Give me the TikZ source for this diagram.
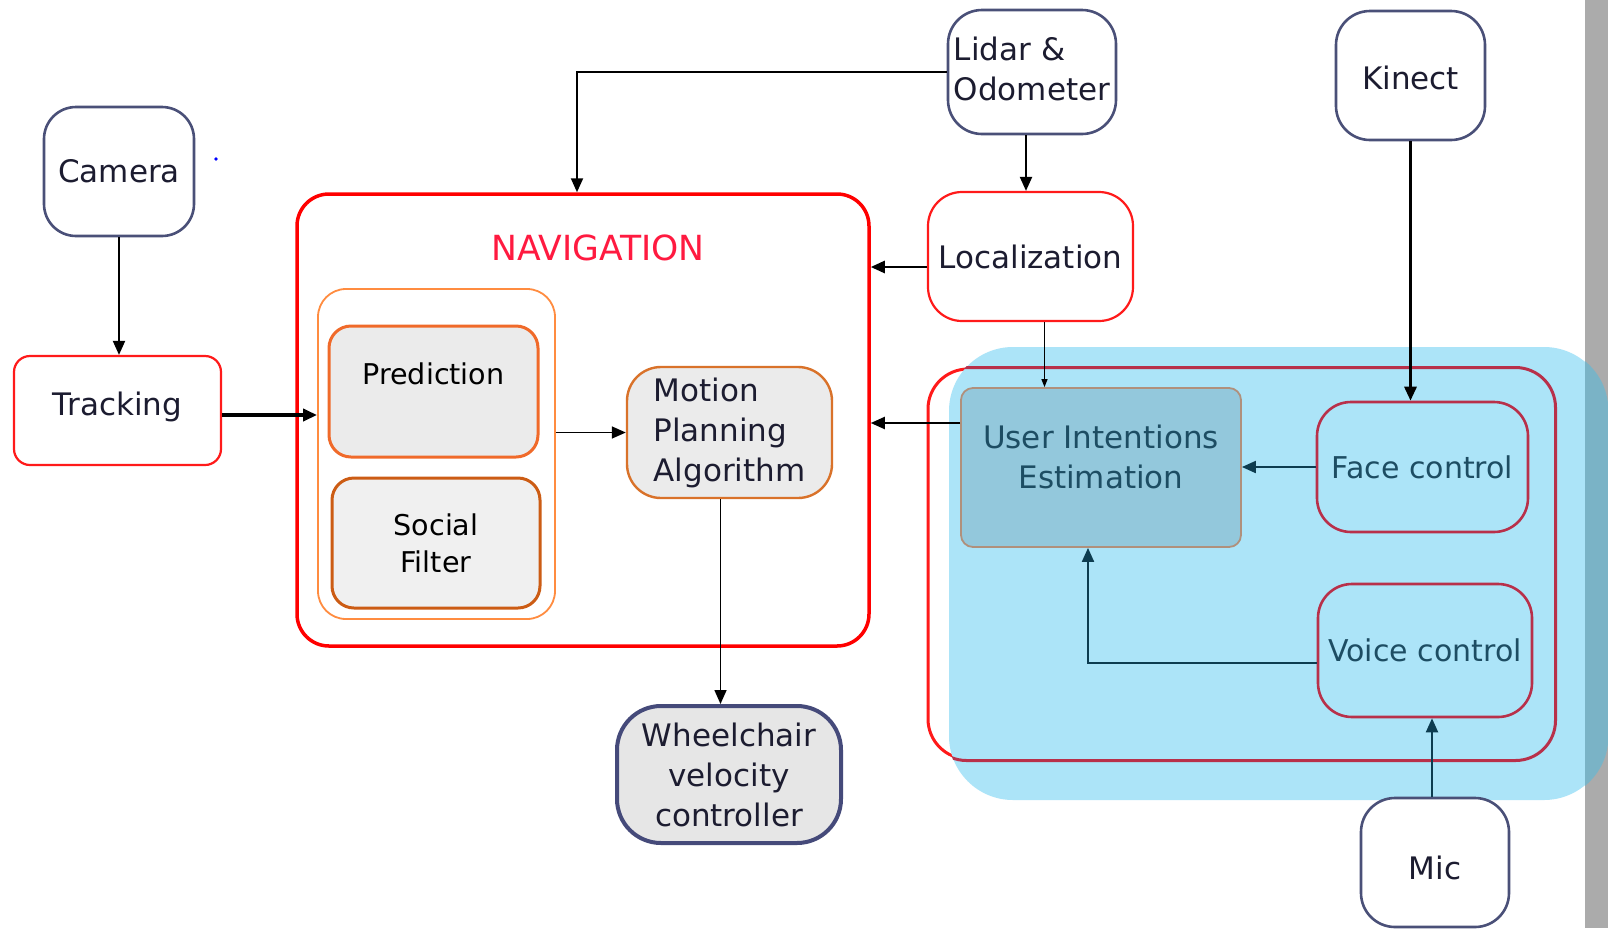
\documentclass[tikz,border=0pt]{standalone}
\usepackage{fontspec}
\setmainfont{DejaVu Sans}
\usetikzlibrary{arrows.meta}
\definecolor{navy}{HTML}{4A5078}
\definecolor{navyd}{HTML}{454A7A}
\definecolor{redA}{HTML}{FF1A1A}
\definecolor{redN}{HTML}{FF0000}
\definecolor{navtxt}{HTML}{FF1A40}
\definecolor{orgA}{HTML}{FF8C40}
\definecolor{orgP}{HTML}{F06A2A}
\definecolor{orgS}{HTML}{CC5C14}
\definecolor{orgM}{HTML}{D9722A}
\definecolor{grayP}{HTML}{EBEBEB}
\definecolor{grayS}{HTML}{F0F0F0}
\definecolor{grayW}{HTML}{E6E6E6}
\definecolor{txt}{HTML}{1C1C30}
\definecolor{ovblue}{HTML}{ACE4F8}
\definecolor{strip}{HTML}{ABABAB}
\definecolor{stripblue}{HTML}{7AB3C6}
\definecolor{crimson}{HTML}{B8304A}
\definecolor{uiefill}{HTML}{93C8DC}
\definecolor{uieborder}{HTML}{B0907C}
\definecolor{intxt}{HTML}{1D4D63}
\definecolor{teal}{HTML}{0D3C50}
\newcommand\fs{\fontsize{15.5}{20}\selectfont}
\newcommand\fsp{\fontsize{14.3}{18.5}\selectfont}
\newcommand\shifttext[2]{\raisebox{#1}[6pt][6pt]{#2}}
\tikzset{
  every node/.style={font=\fs, text=txt, inner sep=0pt},
  srcbox/.style={draw=navy, line width=1.3pt, rounded corners=17pt, fill=white},
  procbox/.style={draw=redA, line width=1.1pt, fill=white},
  arr/.style={-{Triangle[length=7pt,width=6pt]}, line width=1pt, draw=black},
  thinarr/.style={-{Triangle[length=4pt,width=3pt]}, line width=0.6pt, draw=black},
  inarr/.style={-{Triangle[length=7pt,width=6pt]}, line width=1pt, draw=teal},
}
\begin{document}
\begin{tikzpicture}[x=0.5pt,y=-0.5pt]
\useasboundingbox (0,0) rectangle (1608,928);
\fill[white] (0,0) rectangle (1608,928);
\fill[strip] (1585,0) rectangle (1608,928);

% left side
\node[srcbox, minimum width=75pt, minimum height=64.5pt, rounded corners=16pt] (camera) at (119,171.5) {Camera};
\fill[blue] (216,159) circle (0.9pt);
\node[procbox, rounded corners=8pt, minimum width=103.5pt, minimum height=54.5pt] (tracking) at (117.5,410.5) {\shifttext{-2.5pt}{Tracking}};

% navigation
\node[draw=redN, line width=1.75pt, rounded corners=16pt, minimum width=286pt, minimum height=226pt] (nav) at (583,420) {};
\node[text=navtxt, font=\fontsize{17.3}{20}\selectfont] (navlabel) at (598,248) {NAVIGATION};
\node[draw=orgA, line width=0.9pt, rounded corners=14pt, minimum width=118.5pt, minimum height=165pt] (orange) at (436.5,454) {};
\node[draw=orgP, line width=1.5pt, fill=grayP, rounded corners=11pt, minimum width=104.5pt, minimum height=65.5pt, font=\fsp, text=black] (pred) at (433.5,391.5) {\shifttext{3.75pt}{Prediction}};
\node[draw=orgS, line width=1.5pt, fill=grayS, rounded corners=11pt, minimum width=104pt, minimum height=65pt, font=\fsp, text=black, align=center] (social) at (436,543) {Social\\Filter};
\node[draw=orgM, line width=1.2pt, fill=grayP, rounded corners=17pt, minimum width=102.5pt, minimum height=65.5pt, align=left] (motion) at (729.5,432.5) {Motion\\Planning\\Algorithm};
\node[draw=navyd, line width=2pt, fill=grayW, rounded corners=22pt, minimum width=112pt, minimum height=68.5pt, align=center] (wheel) at (729,774.5) {Wheelchair\\velocity\\controller};

% top right sources
\node[srcbox, minimum width=84pt, minimum height=62pt, align=left] (lidar) at (1032,72) {\raisebox{3.5pt}{\begin{tabular}{@{}l@{}}Lidar \&\\Odometer\end{tabular}}};
\node[procbox, rounded corners=17pt, minimum width=102.5pt, minimum height=64.5pt] (loc) at (1030.5,256.5) {Localization};
\node[srcbox, minimum width=74.5pt, minimum height=64.5pt] (kinect) at (1410.5,75.5) {\shifttext{-7.2pt}{Kinect}};

% user intention frame and overlay
\node[draw=redA, line width=1.5pt, rounded corners=20pt, minimum width=313pt, minimum height=195pt] (frame) at (1241,564) {};
\node[fill=ovblue, rounded corners=32pt, minimum width=329.5pt, minimum height=226.5pt] (ov) at (1278.5,573.5) {};
\begin{scope}
  \clip[rounded corners=32pt] (ov.south west) rectangle (ov.north east);
  \fill[stripblue] (1585,0) rectangle (1608,928);
  \draw[crimson, line width=1.5pt, rounded corners=20pt] (frame.south west) rectangle (frame.north east);
\end{scope}
\node[draw=uieborder, line width=0.9pt, fill=uiefill, rounded corners=6pt, minimum width=140pt, minimum height=79.5pt, text=intxt] (uie) at (1101,467.5) {\raisebox{0pt}[0pt][0pt]{\begin{tabular}{@{}c@{}}User Intentions\\Estimation\end{tabular}}};
\node[draw=crimson, line width=1.3pt, rounded corners=17pt, minimum width=105.5pt, minimum height=65pt, text=intxt, font=\fontsize{15}{20}\selectfont] (face) at (1422.5,467) {Face control};
\node[draw=crimson, line width=1.3pt, rounded corners=17pt, minimum width=107pt, minimum height=66.5pt, text=intxt, font=\fontsize{15}{20}\selectfont] (voice) at (1425,650.5) {Voice control};
\node[srcbox, minimum width=74pt, minimum height=64.5pt] (mic) at (1435,862.5) {\shifttext{-8.6pt}{Mic}};

% connectors
\draw[arr] (camera.south) -- (camera.south |- tracking.north);
\draw[arr, line width=2pt] ([yshift=-2.25pt]tracking.east) -- ([yshift=-2.25pt]tracking.east -| orange.west);
\draw[arr] (lidar.west) -| ([xshift=-3pt]nav.north);
\draw[arr] ([xshift=-3pt]lidar.south) -- ([xshift=-3pt]lidar.south |- loc.north);
\draw[arr, line width=1.3pt] ([yshift=-5.25pt]loc.west) -- ([yshift=-5.25pt]loc.west -| nav.east);
\draw[thinarr] ([xshift=7pt]loc.south) -- ([xshift=7pt]loc.south |- uie.north);
\draw[arr, line width=1.5pt] (kinect.south) -- (kinect.south |- face.north);
\draw[arr, line width=0.8pt] (orange.east |- motion.west) -- (motion.west);
\draw[arr, line width=0.8pt] ([xshift=-4.5pt]motion.south) -- ([xshift=-4.5pt]motion.south |- wheel.north);
\draw[arr] ([yshift=22.25pt]uie.west) -- ([yshift=22.25pt]uie.west -| nav.east);
\draw[inarr] (face.west) -- (face.west -| uie.east);
\draw[inarr] ([yshift=-6pt]voice.west) -| ([xshift=-6.5pt]uie.south);
\draw[inarr] ([xshift=-1.5pt]mic.north) -- ([xshift=-1.5pt]mic.north |- voice.south);
\end{tikzpicture}
\end{document}
